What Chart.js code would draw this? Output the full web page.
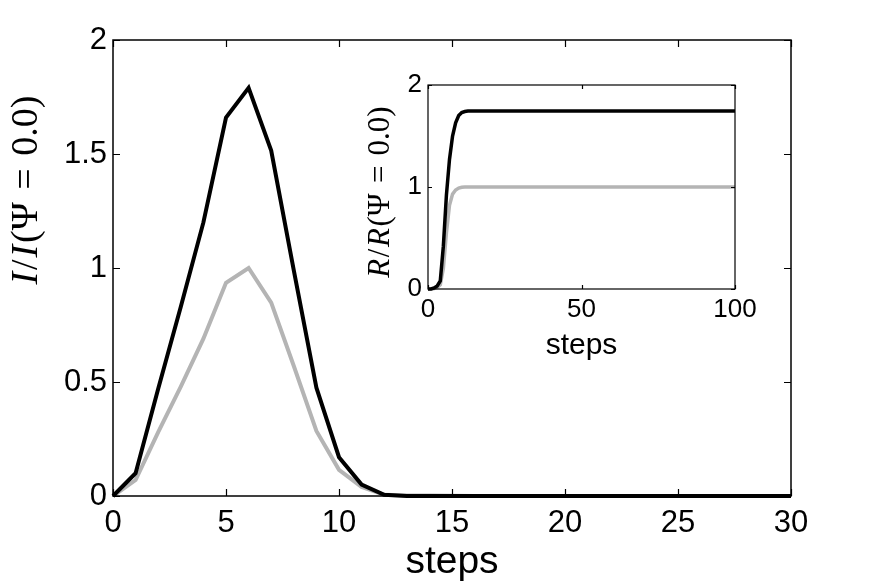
<!DOCTYPE html>
<html>
<head>
<meta charset="utf-8">
<script src="https://cdn.jsdelivr.net/npm/chart.js@4.4.0/dist/chart.umd.min.js"></script>
<style>
    html, body { margin: 0; padding: 0; background: #fff; }
    #wrap { position: relative; width: 873px; height: 584px; }
    #mainChart { position: absolute; left: 0; top: 0; }
    #insetChart { position: absolute; left: 330px; top: 60px; }
</style>
</head>
<body>
<div id="wrap">
    <canvas id="mainChart" width="873" height="584"></canvas>
    <canvas id="insetChart" width="440" height="310"></canvas>
</div>
<script>
// main plot data: I / I(Psi = 0.0) per step
var steps = [0, 1, 2, 3, 4, 5, 6, 7, 8, 9, 10, 11, 12, 13, 14, 15, 16, 17, 18, 19, 20, 21, 22, 23, 24, 25, 26, 27, 28, 29, 30];
var I_black = [0, 0.1, 0.47, 0.83, 1.2, 1.66, 1.79, 1.515, 0.99, 0.475, 0.17, 0.05, 0.005, 0, 0, 0, 0, 0, 0, 0, 0, 0, 0, 0, 0, 0, 0, 0, 0, 0, 0];
var I_gray = [0, 0.07, 0.28, 0.48, 0.69, 0.935, 1.0, 0.848, 0.57, 0.285, 0.115, 0.04, 0.005, 0.002, 0.002, 0.001, 0, 0, 0, 0, 0, 0, 0, 0, 0, 0, 0, 0, 0, 0, 0];
var mainXTicks = [0, 5, 10, 15, 20, 25, 30];
var mainYTicks = [0, 0.5, 1, 1.5, 2];

// inset data: R / R(Psi = 0.0)
var R_steps = [0, 1, 2, 3, 4, 5, 6, 7, 8, 9, 10, 11, 12, 13, 14, 100];
var R_black = [0, 0, 0.01, 0.03, 0.08, 0.42, 0.92, 1.27, 1.5, 1.63, 1.7, 1.73, 1.74, 1.745, 1.745, 1.745];
var R_gray = [0, 0, 0.005, 0.015, 0.04, 0.2, 0.55, 0.82, 0.93, 0.97, 0.99, 0.997, 1.0, 1.0, 1.0, 1.0];
var insetXTicks = [0, 50, 100];
var insetYTicks = [0, 1, 2];

var SANS = '"Liberation Sans", Arial, Helvetica, sans-serif';
var SERIF = '"Liberation Serif", "Times New Roman", serif';
var GRAY = 'rgb(180, 180, 180)';

function toXY(xs, ys) {
    var out = [];
    for (var i = 0; i < xs.length; i++) {
        out.push({ x: xs[i], y: ys[i] });
    }
    return out;
}

// box round the plot + ticks pointing inward on all four sides
var matlabBox = {
    id: 'matlabBox',
    afterDatasetsDraw: function (chart, args, opts) {
        var ctx = chart.ctx;
        var a = chart.chartArea;
        var xs = chart.scales.x, ys = chart.scales.y;
        var len = opts.tickLen;
        ctx.save();
        ctx.strokeStyle = '#000';
        ctx.lineWidth = opts.lineWidth;
        ctx.beginPath();
        opts.xTicks.forEach(function (v) {
            var px = Math.round(xs.getPixelForValue(v)) + 0.5;
            ctx.moveTo(px, a.bottom); ctx.lineTo(px, a.bottom - len);
            ctx.moveTo(px, a.top); ctx.lineTo(px, a.top + len);
        });
        opts.yTicks.forEach(function (v) {
            var py = Math.round(ys.getPixelForValue(v)) + 0.5;
            ctx.moveTo(a.left, py); ctx.lineTo(a.left + len, py);
            ctx.moveTo(a.right, py); ctx.lineTo(a.right - len, py);
        });
        ctx.stroke();
        ctx.lineWidth = opts.boxWidth;
        ctx.strokeRect(a.left, a.top, a.right - a.left, a.bottom - a.top);
        ctx.restore();
    }
};

// rotated y label, italic letters + upright rest (like the latex label)
// gap = extra space (in em) after a part, for the wide math spacing
var yLabel = {
    id: 'yLabel',
    afterDraw: function (chart, args, opts) {
        var ctx = chart.ctx;
        var parts = opts.parts;
        ctx.save();
        ctx.fillStyle = '#000';
        ctx.textBaseline = 'middle';
        var total = 0;
        parts.forEach(function (p) {
            ctx.font = (p.italic ? 'italic ' : '') + opts.size + 'px ' + SERIF;
            p.w = ctx.measureText(p.t).width + (p.gap || 0) * opts.size;
            total += p.w;
        });
        ctx.translate(opts.x, opts.y);
        ctx.rotate(-Math.PI / 2);
        var pos = -total / 2;
        parts.forEach(function (p) {
            ctx.font = (p.italic ? 'italic ' : '') + opts.size + 'px ' + SERIF;
            ctx.fillText(p.t, pos, 0);
            pos += p.w;
        });
        ctx.restore();
    }
};

function labelParts(letter) {
    return [
        { t: letter, italic: true, gap: 0.05 },
        { t: '/', italic: false, gap: 0.05 },
        { t: letter, italic: true, gap: 0.05 },
        { t: '(Ψ', italic: false, gap: 0.33 },
        { t: '=', italic: false, gap: 0.33 },
        { t: '0.0)', italic: false }
    ];
}

function makeOptions(cfg) {
    return {
        responsive: false,
        animation: false,
        devicePixelRatio: 1,
        layout: { padding: { top: cfg.top, right: cfg.right, left: 0, bottom: 0 } },
        plugins: {
            legend: { display: false },
            tooltip: { enabled: false },
            matlabBox: { tickLen: cfg.tickLen, lineWidth: 1.2, boxWidth: cfg.boxWidth, xTicks: cfg.xTicks, yTicks: cfg.yTicks },
            yLabel: cfg.label
        },
        scales: {
            x: {
                type: 'linear',
                min: cfg.xTicks[0],
                max: cfg.xTicks[cfg.xTicks.length - 1],
                afterFit: function (scale) { scale.height = cfg.xAxisH; },
                afterBuildTicks: function (scale) {
                    scale.ticks = cfg.xTicks.map(function (v) { return { value: v }; });
                },
                grid: { display: false, drawTicks: false },
                border: { display: false },
                ticks: {
                    color: '#000', font: { family: SANS, size: cfg.tickSize }, padding: cfg.xPad, maxRotation: 0,
                    callback: function (v) { return String(v); }
                },
                title: {
                    display: true, text: 'steps', color: '#000',
                    font: { family: SANS, size: cfg.titleSize, lineHeight: 1 },
                    padding: { top: 0, bottom: cfg.titlePad }
                }
            },
            y: {
                type: 'linear',
                min: cfg.yTicks[0],
                max: cfg.yTicks[cfg.yTicks.length - 1],
                afterFit: function (scale) { scale.width = cfg.yAxisW; },
                afterBuildTicks: function (scale) {
                    scale.ticks = cfg.yTicks.map(function (v) { return { value: v }; });
                },
                grid: { display: false, drawTicks: false },
                border: { display: false },
                ticks: {
                    color: '#000', font: { family: SANS, size: cfg.tickSize }, padding: cfg.yPad,
                    callback: function (v) { return String(v); }
                }
            }
        }
    };
}

//main chart
var ctx_main = document.getElementById('mainChart');
var main_Chart = new Chart(ctx_main, {
    type: 'line',
    data: {
        datasets: [
            { data: toXY(steps, I_black), borderColor: '#000', borderWidth: 4, pointRadius: 0, tension: 0, clip: false },
            { data: toXY(steps, I_gray), borderColor: GRAY, borderWidth: 4, pointRadius: 0, tension: 0, clip: false }
        ]
    },
    options: makeOptions({
        top: 40, right: 82, xAxisH: 88, yAxisW: 113,
        tickLen: 7, boxWidth: 1.5, tickSize: 31, titleSize: 39,
        xPad: 9, yPad: 6, titlePad: 2,
        xTicks: mainXTicks, yTicks: mainYTicks,
        label: { x: 27, y: 190, size: 38, parts: labelParts('I') }
    }),
    plugins: [matlabBox, yLabel]
});

//inset chart
var ctx_inset = document.getElementById('insetChart');
var inset_Chart = new Chart(ctx_inset, {
    type: 'line',
    data: {
        datasets: [
            { data: toXY(R_steps, R_black), borderColor: '#000', borderWidth: 3.5, pointRadius: 0, tension: 0, clip: false },
            { data: toXY(R_steps, R_gray), borderColor: GRAY, borderWidth: 3.5, pointRadius: 0, tension: 0, clip: false }
        ]
    },
    options: makeOptions({
        top: 25, right: 35, xAxisH: 81, yAxisW: 98,
        tickLen: 4, boxWidth: 1.2, tickSize: 26, titleSize: 30,
        xPad: 5, yPad: 6, titlePad: 9,
        xTicks: insetXTicks, yTicks: insetYTicks,
        label: { x: 51, y: 132, size: 31, parts: labelParts('R') }
    }),
    plugins: [matlabBox, yLabel]
});
</script>
</body>
</html>
